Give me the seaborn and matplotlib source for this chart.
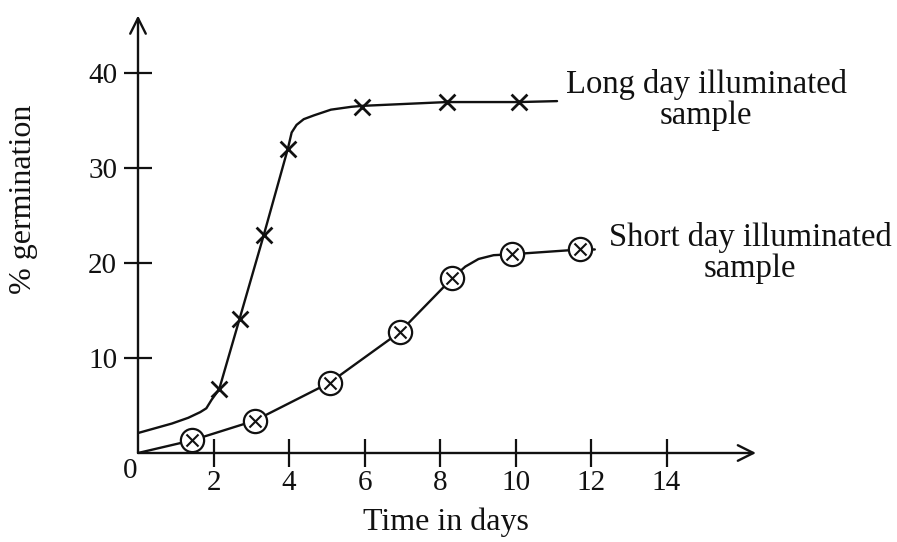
import matplotlib
matplotlib.use("Agg")
import matplotlib.pyplot as plt
import seaborn as sns

# marker readings (days, % germination)
long_x = [2.15, 2.69, 3.33, 3.97, 5.94, 8.18, 10.1]
long_y = [6.7, 14.1, 22.9, 32.0, 36.4, 36.9, 36.9]
short_x = [1.44, 3.09, 5.08, 6.93, 8.33, 9.91, 11.72]
short_y = [1.34, 3.4, 7.4, 12.7, 18.4, 20.9, 21.4]

# hand-drawn curves
long_curve_x = [0, 0.9, 1.33, 1.65, 1.81, 1.95, 2.15, 2.69, 3.33, 3.97, 4.07, 4.2, 4.39, 4.66,
                5.11, 5.65, 5.94, 8.18, 10.1, 11.1]
long_curve_y = [2.1, 3.1, 3.7, 4.3, 4.7, 5.6, 6.7, 14.1, 22.9, 32.0, 33.7, 34.5, 35.1, 35.5,
                36.1, 36.4, 36.5, 36.9, 36.9, 37.0]
short_curve_x = [0, 1.44, 3.09, 5.08, 6.93, 8.33, 8.67, 9.02, 9.42, 9.91, 11.72, 12.1]
short_curve_y = [0, 1.34, 3.4, 7.4, 12.7, 18.4, 19.6, 20.4, 20.8, 20.9, 21.4, 21.4]

x_ticks = [2, 4, 6, 8, 10, 12, 14]
y_ticks = [10, 20, 30, 40]

sns.set_theme(style="white")
plt.rcParams['font.family'] = ['Liberation Serif', 'DejaVu Serif']

W, H = 897, 542
fig = plt.figure(figsize=(W / 100, H / 100), dpi=100)
ax = fig.add_axes([138 / W, 89 / H, 626.7 / W, 447 / H])
ax.set_xlim(0, 16.6)
ax.set_ylim(0, 47)
for s in ax.spines.values():
    s.set_visible(False)

ink = '#111111'
sns.lineplot(x=long_curve_x, y=long_curve_y, sort=False, estimator=None, color=ink, lw=1.7, ax=ax)
sns.lineplot(x=short_curve_x, y=short_curve_y, sort=False, estimator=None, color=ink, lw=1.7, ax=ax)
sns.scatterplot(x=long_x, y=long_y, marker='x', s=130, color=ink, linewidth=2.0, ax=ax, zorder=4)
sns.scatterplot(x=short_x, y=short_y, marker='o', s=280, facecolor='white', edgecolor=ink, linewidth=1.6, ax=ax, zorder=4)
sns.scatterplot(x=short_x, y=short_y, marker='x', s=75, color=ink, linewidth=1.5, ax=ax, zorder=5)

# axes with arrow heads
arrow = dict(arrowstyle='->', lw=1.7, color=ink, mutation_scale=28, shrinkA=0, shrinkB=0)
ax.annotate('', xy=(16.37, 0), xytext=(0, 0), arrowprops=arrow, annotation_clip=False)
ax.annotate('', xy=(0, 46.0), xytext=(0, 0), arrowprops=arrow, annotation_clip=False)

ax.set_xticks(x_ticks)
ax.set_yticks(y_ticks)
ax.tick_params(axis='both', direction='inout', length=20, width=1.6, color=ink,
               labelsize=21, labelcolor=ink, bottom=True, left=True)
ax.tick_params(axis='x', pad=2)
ax.tick_params(axis='y', pad=5)
ax.set_xlabel('')
ax.set_ylabel('')

fig.text(130 / W, 1 - 471 / H, '0', fontsize=21, color=ink, ha='center', va='center')
fig.text(446 / W, 1 - 522 / H, 'Time in days', fontsize=23, color=ink, ha='center', va='center')
fig.text(24 / W, 1 - 199 / H, '% germination', fontsize=23, color=ink, ha='center', va='center', rotation=90)

fig.text(706 / W, 1 - 100 / H, 'Long day illuminated\nsample', fontsize=23.5, color=ink,
         ha='center', va='center', multialignment='center', linespacing=1.05)
fig.text(750 / W, 1 - 253 / H, 'Short day illuminated\nsample', fontsize=23.5, color=ink,
         ha='center', va='center', multialignment='center', linespacing=1.05)

fig.savefig('out.png', dpi=100, facecolor='white')
